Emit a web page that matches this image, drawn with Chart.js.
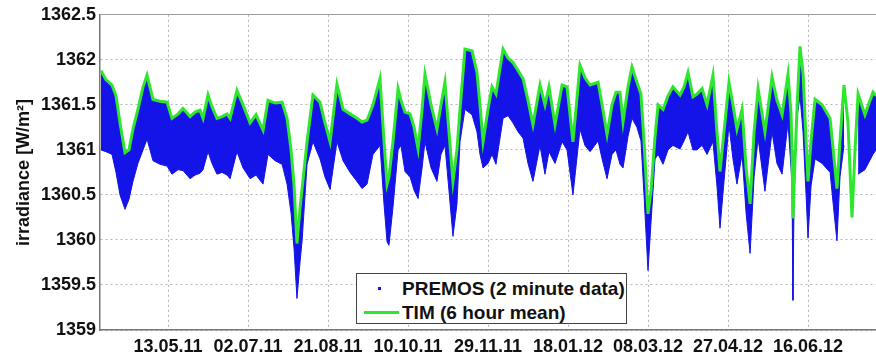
<!DOCTYPE html>
<html>
<head>
<meta charset="utf-8">
<script src="https://cdn.jsdelivr.net/npm/chart.js@4.4.1/dist/chart.umd.min.js"></script>
<style>
  body { margin: 0; background: #fff; }
  #wrap { position: relative; width: 876px; height: 358px; }
  #legend {
    position: absolute; left: 356px; top: 273px; width: 269px; height: 49px;
    border: 1px solid #444; background: #fff;
    font: bold 19px "Liberation Sans", Arial, sans-serif; color: #111;
  }
  #legend span { position: absolute; white-space: nowrap; line-height: 20px; }
</style>
</head>
<body>
<div id="wrap">
  <canvas id="chart" width="876" height="358"></canvas>
  <div id="legend">
    <div style="position:absolute; left:21px; top:13px; width:3px; height:3px; background:#1414e8;"></div>
    <span style="left:45px; top:5px;">PREMOS (2 minute data)</span>
    <div style="position:absolute; left:7px; top:37px; width:35px; height:3px; background:#2ee62e;"></div>
    <span style="left:45px; top:29px;">TIM (6 hour mean)</span>
  </div>
</div>
<script>
// dias contados desde el 13.05.11 (dia 0)
const days = [
  -41.9, -38.8, -35, -32.5, -30, -26.9, -24.4, -21.9, -18.8, -15.6,
  -13.1, -9.4, -5, -0.6, 2.5, 6.3, 9.4, 13.8, 16.9, 20,
  21.9, 25, 27.5, 30.6, 33.8, 36.9, 38.8, 43.1, 46.9, 51.3,
  55, 59.4, 62.5, 66.9, 71.3, 74.4, 76.9, 78.8, 80.6, 82.5,
  83.8, 86.9, 90.6, 95, 98.1, 101.3, 105.6, 109.4, 113.8, 118.1,
  121.3, 124.4, 128.1, 132.5, 135, 136.9, 138.1, 140.6, 143.8, 145.6,
  148.1, 151.3, 153.8, 156.3, 158.8, 160.6, 164.4, 168.1, 170.6, 173.1,
  175.6, 178.1, 180.6, 182.5, 185.6, 190, 193.1, 195, 196.9, 200,
  202.5, 205, 209.4, 212.5, 215.6, 218.8, 221.9, 225, 228.1, 232.5,
  235.6, 238.1, 241.9, 246.3, 249.4, 253.1, 257.5, 260.6, 263.8, 268.8,
  271.3, 274.4, 277.5, 280, 282.5, 284.4, 287.5, 290, 293.1, 295.6,
  297.5, 300, 301.9, 304.4, 306.3, 309.4, 312.5, 315.6, 320, 322.5,
  325, 328.1, 330.6, 333.8, 336.9, 340.6, 343.1, 345, 347.5, 350.6,
  353.1, 355.6, 358.8, 361.3, 363.8, 366.3, 368.8, 373.1, 377.5, 380.6,
  383.8, 387.5, 389.4, 390, 390.6, 391.3, 393.1, 395, 396.9, 398.8,
  400, 401.9, 404.4, 408.8, 413.8, 416.3, 418.1, 420, 422.5, 425,
  427.5, 429.4, 431.3, 435.6, 440.6, 442.5
];

// TIM, media de 6 horas (linea verde)
const timMean = [
  1361.88, 1361.78, 1361.72, 1361.60, 1361.30, 1360.97, 1361.00, 1361.23, 1361.45, 1361.70,
  1361.83, 1361.56, 1361.54, 1361.53, 1361.35, 1361.40, 1361.46, 1361.37, 1361.42, 1361.44,
  1361.35, 1361.61, 1361.48, 1361.35, 1361.37, 1361.40, 1361.35, 1361.66, 1361.50, 1361.30,
  1361.39, 1361.22, 1361.55, 1361.52, 1361.53, 1361.35, 1361.00, 1360.60, 1359.96, 1360.35,
  1360.57, 1361.09, 1361.61, 1361.53, 1361.30, 1361.09, 1361.73, 1361.45, 1361.40, 1361.35,
  1361.31, 1361.33, 1361.50, 1361.79, 1361.10, 1360.62, 1360.70, 1361.09, 1361.68, 1361.55,
  1361.42, 1361.40, 1361.25, 1361.01, 1361.45, 1361.84, 1361.50, 1361.23, 1361.50, 1361.75,
  1361.20, 1360.65, 1361.00, 1361.45, 1362.12, 1362.10, 1361.86, 1361.50, 1361.09, 1361.45,
  1361.70, 1361.62, 1362.12, 1362.02, 1361.97, 1361.88, 1361.79, 1361.55, 1361.28, 1361.72,
  1361.50, 1361.70, 1361.28, 1361.72, 1361.70, 1361.09, 1361.94, 1361.80, 1361.72, 1361.75,
  1361.50, 1361.17, 1361.50, 1361.64, 1361.64, 1361.31, 1361.70, 1361.92, 1361.75, 1361.62,
  1361.10, 1360.29, 1360.55, 1361.15, 1361.50, 1361.45, 1361.60, 1361.70, 1361.61, 1361.70,
  1361.86, 1361.59, 1361.62, 1361.68, 1361.50, 1361.83, 1361.20, 1360.76, 1361.20, 1361.75,
  1361.50, 1361.23, 1361.45, 1360.80, 1360.40, 1361.20, 1361.68, 1361.20, 1361.81, 1361.55,
  1361.39, 1361.84, 1361.40, 1361.00, 1360.24, 1360.60, 1361.45, 1362.15, 1361.85, 1361.10,
  1360.65, 1361.10, 1361.56, 1361.50, 1361.35, 1360.90, 1360.57, 1361.10, 1361.72, 1361.30,
  1360.25, 1361.00, 1361.62, 1361.39, 1361.64, 1361.60
];

// PREMOS, borde inferior de la nube de puntos de 2 minutos (null = sin datos)
const premosLow = [
  1361.00, 1360.98, 1360.95, 1360.75, 1360.50, 1360.34, 1360.45, 1360.65, 1360.85, 1361.00,
  1361.12, 1360.88, 1360.84, 1360.82, 1360.73, 1360.78, 1360.77, 1360.68, 1360.72, 1360.74,
  1360.78, 1360.98, 1360.85, 1360.73, 1360.75, 1360.72, 1360.68, 1360.98, 1360.80, 1360.68,
  1360.72, 1360.62, 1360.95, 1360.88, 1360.84, 1360.62, 1360.30, 1359.90, 1359.35, 1359.75,
  1359.99, 1360.84, 1361.09, 1360.90, 1360.70, 1360.56, 1361.09, 1360.88, 1360.75, 1360.65,
  1360.57, 1360.62, 1360.95, 1361.05, 1360.40, 1359.98, 1359.94, 1360.36, 1361.00, 1361.05,
  1360.76, 1360.70, 1360.55, 1360.46, 1360.80, 1361.09, 1360.80, 1360.65, 1360.95, 1361.05,
  1360.55, 1360.04, 1360.40, 1361.09, 1361.45, 1361.39, 1361.20, 1360.95, 1360.80, 1360.85,
  1360.95, 1360.84, 1361.35, 1361.38, 1361.30, 1361.20, 1361.13, 1360.85, 1360.65, 1361.05,
  1360.73, 1360.98, 1360.85, 1361.09, 1361.00, 1360.50, 1361.23, 1361.05, 1360.98, 1361.10,
  1360.90, 1360.68, 1360.95, 1361.00, 1360.84, 1360.80, 1361.15, 1361.35, 1361.25, 1361.10,
  1360.50, 1359.66, 1360.20, 1360.90, 1360.95, 1360.84, 1361.00, 1361.05, 1361.01, 1361.10,
  1361.20, 1361.00, 1361.00, 1361.05, 1360.95, 1361.09, 1360.60, 1360.13, 1360.65, 1361.28,
  1360.90, 1360.62, 1360.95, 1360.30, 1359.85, 1360.70, 1361.13, 1360.54, 1361.20, 1360.85,
  1360.73, 1361.30, 1360.80, 1360.60, 1359.33, 1360.50, 1361.35, 1361.60, 1361.20, 1360.50,
  1360.02, 1360.60, 1360.90, 1360.85, 1360.75, 1360.30, 1359.99, 1360.70, 1361.05, null,
  null, null, 1360.73, 1360.78, 1360.95, 1361.00
];

const xTickDays = [0, 50, 100, 150, 200, 250, 300, 350, 400];
const xTickLabels = ["13.05.11", "02.07.11", "21.08.11", "10.10.11", "29.11.11",
                     "18.01.12", "08.03.12", "27.04.12", "16.06.12"];
const yTicks = [1359, 1359.5, 1360, 1360.5, 1361, 1361.5, 1362, 1362.5];

const fontFam = '"Liberation Sans", Arial, sans-serif';
const tickFont = { family: fontFam, size: 18, weight: "bold" };

const timPoints = days.map((d, i) => ({ x: d, y: timMean[i] }));
const premosPoints = days.map((d, i) => ({ x: d, y: premosLow[i] }));

const data = {
  datasets: [
    {
      label: "TIM (6 hour mean)",
      data: timPoints,
      borderColor: "#2ee62e",
      borderWidth: 3,
      pointRadius: 0,
      fill: false,
      tension: 0,
    },
    {
      label: "PREMOS (2 minute data)",
      data: premosPoints,
      borderColor: "#1414e8",
      backgroundColor: "#1414e8",
      borderWidth: 1,
      pointRadius: 0,
      fill: "-1",
      tension: 0,
      spanGaps: false,
    },
  ],
};

const config = {
  type: "line",
  data: data,
  options: {
    responsive: false,
    animation: false,
    layout: { padding: { top: 12, right: 0, bottom: 0, left: 0 } },
    plugins: { legend: { display: false }, tooltip: { enabled: false } },
    scales: {
      x: {
        type: "linear",
        min: -42.5,
        max: 442.5,
        afterBuildTicks: (s) => { s.ticks = xTickDays.map((v) => ({ value: v })); },
        ticks: {
          callback: (v) => xTickLabels[xTickDays.indexOf(v)],
          font: tickFont,
          color: "#111",
          padding: 6,
          maxRotation: 0,
          autoSkip: false,
        },
        grid: { color: "#b4b4b4", drawTicks: false },
        border: { color: "#777", width: 1.5, dash: [2, 3] },
        afterFit: (s) => { s.height = 28; },
      },
      xTop: {
        type: "linear",
        position: "top",
        min: -42.5,
        max: 442.5,
        ticks: { display: false },
        grid: { display: false, drawTicks: false },
        border: { color: "#a0a0a0", width: 1 },
      },
      y: {
        min: 1359,
        max: 1362.5,
        afterBuildTicks: (s) => { s.ticks = yTicks.map((v) => ({ value: v })); },
        ticks: {
          callback: (v) => String(v),
          font: tickFont,
          color: "#111",
          padding: 4,
        },
        grid: { color: "#b4b4b4", drawTicks: false },
        border: { color: "#777", width: 1.5, dash: [2, 3] },
        title: {
          display: true,
          text: "irradiance [W/m²]",
          font: { family: fontFam, size: 18, weight: "bold" },
          color: "#111",
          padding: { top: 13, bottom: 0 },
        },
        afterFit: (s) => { s.width = 100; },
      },
    },
  },
};

const myChart = new Chart(document.getElementById("chart"), config);
</script>
</body>
</html>
